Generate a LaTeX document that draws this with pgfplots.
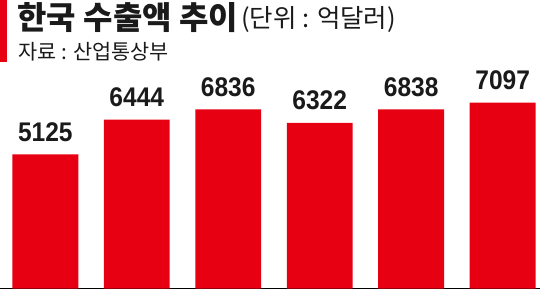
\documentclass[border=0pt]{standalone}
\usepackage{pgfplots}
\pgfplotsset{compat=1.18}
\usepackage{fontspec}
\setmainfont{Liberation Sans}
\newfontfamily\kr{Noto Sans CJK KR}
\newfontfamily\krb{Noto Sans CJK KR Black}
\newfontfamily\num[FakeStretch=0.91]{Liberation Sans Bold}
\definecolor{barred}{HTML}{E60012}
\definecolor{txt}{HTML}{1A1A1A}
\begin{document}
\begin{tikzpicture}
\begin{axis}[
  at={(0,0)}, anchor=south west,
  scale only axis,
  width=540pt, height=289pt,
  xmin=-0.491, xmax=5.404,
  ymin=0, ymax=11014,
  axis x line*=bottom, axis y line=none,
  axis line style={-, black, line width=0.8pt},
  xtick=\empty, ytick=\empty,
  clip=false,
  ybar, bar width=66pt,
  nodes near coords,
  /pgf/number format/.cd, 1000 sep={}, assume math mode=true, /pgfplots/.cd,
  every node near coord/.append style={font=\num\fontsize{27}{27}\selectfont, text=txt, anchor=base, inner sep=0pt, yshift=13pt},
]
\addplot[fill=barred, draw=none] coordinates {(0,5125) (1,6444) (2,6836) (3,6322) (4,6838) (5,7097)};
\end{axis}
\fill[barred] (0,289pt) rectangle (7pt,227pt);
\node[anchor=base west, inner sep=0, text=txt, font=\krb\fontsize{32}{32}\selectfont] at (17pt,259pt) {한국 수출액 추이};
\node[anchor=base west, inner sep=0, text=txt, font=\kr\fontsize{25.5}{25.5}\selectfont] at (241pt,261pt) {(단위 : 억달러)};
\node[anchor=base west, inner sep=0, text=txt, font=\kr\fontsize{20.8}{20.8}\selectfont] at (18pt,229pt) {자료 : 산업통상부};
\useasboundingbox (0,-11pt) rectangle (540pt,289pt);
\end{tikzpicture}
\end{document}
